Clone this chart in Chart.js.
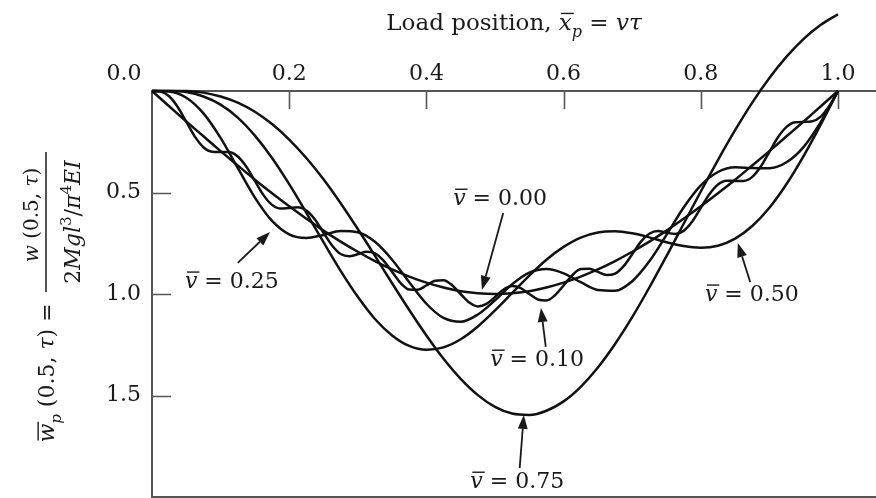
<!DOCTYPE html>
<html>
<head>
<meta charset="utf-8">
<script src="https://cdn.jsdelivr.net/npm/chart.js@4/dist/chart.umd.min.js"></script>
<style>
  html, body { margin: 0; padding: 0; background: #fff; }
</style>
</head>
<body>
<canvas id="deflChart" width="876" height="498"></canvas>
<script>
// load positions (fraction of span) used for the sampled curves
const posFine = [
  0, 0.0125, 0.025, 0.0375, 0.05, 0.0625, 0.075, 0.0875, 0.1, 0.1125,
  0.125, 0.1375, 0.15, 0.1625, 0.175, 0.1875, 0.2, 0.2125, 0.225, 0.2375,
  0.25, 0.2625, 0.275, 0.2875, 0.3, 0.3125, 0.325, 0.3375, 0.35, 0.3625,
  0.375, 0.3875, 0.4, 0.4125, 0.425, 0.4375, 0.45, 0.4625, 0.475, 0.4875,
  0.5, 0.5125, 0.525, 0.5375, 0.55, 0.5625, 0.575, 0.5875, 0.6, 0.6125,
  0.625, 0.6375, 0.65, 0.6625, 0.675, 0.6875, 0.7, 0.7125, 0.725, 0.7375,
  0.75, 0.7625, 0.775, 0.7875, 0.8, 0.8125, 0.825, 0.8375, 0.85, 0.8625,
  0.875, 0.8875, 0.9, 0.9125, 0.925, 0.9375, 0.95, 0.9625, 0.975, 0.9875,
  1.0
];
const posCoarse = [
  0, 0.025, 0.05, 0.075, 0.1, 0.125, 0.15, 0.175, 0.2, 0.225,
  0.25, 0.275, 0.3, 0.325, 0.35, 0.375, 0.4, 0.425, 0.45, 0.475,
  0.5, 0.525, 0.55, 0.575, 0.6, 0.625, 0.65, 0.675, 0.7, 0.725,
  0.75, 0.775, 0.8, 0.825, 0.85, 0.875, 0.9, 0.925, 0.95, 0.975,
  1.0
];

// midspan deflection for each speed ratio
const defl000 = [
  0, 0.075, 0.150, 0.223, 0.296, 0.367, 0.437, 0.504, 0.568, 0.629,
  0.688, 0.742, 0.792, 0.838, 0.879, 0.914, 0.944, 0.968, 0.986, 0.996,
  1.000, 0.996, 0.986, 0.968, 0.944, 0.914, 0.879, 0.838, 0.792, 0.742,
  0.688, 0.629, 0.568, 0.504, 0.437, 0.367, 0.296, 0.223, 0.150, 0.075,
  0
];
const defl010 = [
  0, 0.003, 0.026, 0.079, 0.152, 0.225, 0.277, 0.299, 0.300, 0.301,
  0.323, 0.373, 0.443, 0.513, 0.561, 0.579, 0.576, 0.573, 0.589, 0.633,
  0.698, 0.761, 0.803, 0.814, 0.804, 0.792, 0.800, 0.836, 0.891, 0.946,
  0.978, 0.979, 0.958, 0.935, 0.932, 0.957, 1.000, 1.042, 1.061, 1.049,
  1.015, 0.978, 0.961, 0.971, 1.000, 1.027, 1.032, 1.006, 0.958, 0.908,
  0.877, 0.875, 0.891, 0.907, 0.900, 0.863, 0.804, 0.743, 0.703, 0.690,
  0.698, 0.704, 0.689, 0.643, 0.576, 0.509, 0.461, 0.442, 0.443, 0.443,
  0.423, 0.372, 0.300, 0.228, 0.177, 0.154, 0.152, 0.149, 0.126, 0.073,
  0
];
const defl025 = [
  0, 0.003, 0.033, 0.110, 0.231, 0.379, 0.525, 0.640, 0.706, 0.724,
  0.709, 0.690, 0.696, 0.743, 0.831, 0.942, 1.048, 1.118, 1.137, 1.101,
  1.031, 0.952, 0.895, 0.877, 0.898, 0.942, 0.980, 0.984, 0.937, 0.839,
  0.709, 0.574, 0.465, 0.399, 0.376, 0.379, 0.380, 0.351, 0.275, 0.152,
  0
];
const defl050 = [
  0, 0, 0.005, 0.027, 0.067, 0.131, 0.220, 0.330, 0.459, 0.600,
  0.745, 0.886, 1.014, 1.123, 1.204, 1.256, 1.275, 1.263, 1.223, 1.160,
  1.081, 0.995, 0.909, 0.831, 0.768, 0.722, 0.697, 0.691, 0.701, 0.721,
  0.745, 0.764, 0.772, 0.762, 0.727, 0.665, 0.575, 0.458, 0.319, 0.164,
  0
];
const defl075 = [
  0, 0, 0, 0.008, 0.027, 0.057, 0.102, 0.163, 0.239, 0.330,
  0.435, 0.553, 0.680, 0.812, 0.947, 1.079, 1.204, 1.319, 1.418, 1.498,
  1.556, 1.589, 1.596, 1.575, 1.529, 1.457, 1.362, 1.246, 1.114, 0.968,
  0.813, 0.654, 0.495, 0.340, 0.193, 0.057, -0.064, -0.169, -0.257, -0.326,
  -0.378
];

const xTickValues = [0, 0.2, 0.4, 0.6, 0.8, 1.0];
const yTickValues = [0.5, 1.0, 1.5];

// curve callouts, in data units: label, text anchor, arrow tail, arrow tip
const callouts = [
  { label: "0.00", text: [0.439, 0.562], tail: [0.512, 0.601], tip: [0.481, 0.980] },
  { label: "0.10", text: [0.493, 1.355], tail: [0.574, 1.261], tip: [0.567, 1.069] },
  { label: "0.25", text: [0.048, 0.970], tail: [0.125, 0.847], tip: [0.172, 0.695] },
  { label: "0.50", text: [0.806, 1.034], tail: [0.872, 0.941], tip: [0.854, 0.749] },
  { label: "0.75", text: [0.464, 1.956], tail: [0.536, 1.857], tip: [0.542, 1.596] }
];

const FAMILY = "'DejaVu Serif', serif";
const INK = "#1a1a1a";

function toPoints(xs, ys) {
  return xs.map((x, i) => ({ x: x, y: ys[i] }));
}

function curve(label, xs, ys) {
  return {
    label: label,
    data: toPoints(xs, ys),
    borderColor: "#111",
    borderWidth: 2.5,
    pointRadius: 0,
    fill: false,
    clip: false,
    cubicInterpolationMode: "monotone"
  };
}

// mixed roman / italic text with sub- and superscripts and overbars
function partFont(p, base) {
  const size = p.sub || p.sup ? Math.round(base * 0.68) : base;
  return (p.it ? "italic " : "") + size + "px " + FAMILY;
}
function richWidth(ctx, parts, base) {
  let w = 0;
  parts.forEach(p => {
    ctx.font = partFont(p, base);
    w += ctx.measureText(p.t).width;
  });
  return w;
}
function drawRich(ctx, parts, x, y, base, align) {
  let cx = align === "center" ? x - richWidth(ctx, parts, base) / 2 : x;
  ctx.textBaseline = "alphabetic";
  ctx.textAlign = "left";
  parts.forEach(p => {
    ctx.font = partFont(p, base);
    const dy = p.sub ? base * 0.3 : p.sup ? -base * 0.42 : 0;
    ctx.fillText(p.t, cx, y + dy);
    const tw = ctx.measureText(p.t).width;
    if (p.bar) {
      ctx.beginPath();
      ctx.lineWidth = 1.4;
      ctx.moveTo(cx + 2, y - base * 0.72);
      ctx.lineTo(cx + tw + 2, y - base * 0.72);
      ctx.stroke();
    }
    cx += tw;
  });
}

function arrow(ctx, x1, y1, x2, y2) {
  const ang = Math.atan2(y2 - y1, x2 - x1);
  const len = 14, half = 5;
  const bx = x2 - len * Math.cos(ang), by = y2 - len * Math.sin(ang);
  ctx.beginPath();
  ctx.lineWidth = 1.8;
  ctx.moveTo(x1, y1);
  ctx.lineTo(bx, by);
  ctx.stroke();
  ctx.beginPath();
  ctx.moveTo(x2, y2);
  ctx.lineTo(bx + half * Math.sin(ang), by - half * Math.cos(ang));
  ctx.lineTo(bx - half * Math.sin(ang), by + half * Math.cos(ang));
  ctx.closePath();
  ctx.fill();
}

// open frame with inward tick marks
const framePlugin = {
  id: "frame",
  beforeDatasetsDraw(chart) {
    const { ctx, chartArea: a, scales: { x, y } } = chart;
    ctx.save();
    ctx.strokeStyle = "#555";
    ctx.lineWidth = 2;
    ctx.beginPath();
    ctx.moveTo(a.right, a.top);
    ctx.lineTo(a.left, a.top);
    ctx.lineTo(a.left, a.bottom);
    ctx.lineTo(a.right, a.bottom);
    ctx.stroke();
    ctx.lineWidth = 1.6;
    ctx.beginPath();
    xTickValues.forEach(v => {
      if (v === 0) return;
      const px = Math.round(x.getPixelForValue(v)) + 0.5;
      ctx.moveTo(px, a.top);
      ctx.lineTo(px, a.top + 18);
    });
    yTickValues.forEach(v => {
      const py = Math.round(y.getPixelForValue(v)) + 0.5;
      ctx.moveTo(a.left, py);
      ctx.lineTo(a.left + 19, py);
    });
    ctx.stroke();
    ctx.restore();
  }
};

// axis titles and curve callouts
const textPlugin = {
  id: "labels",
  afterDraw(chart) {
    const { ctx, scales: { x, y } } = chart;
    ctx.save();
    ctx.fillStyle = INK;
    ctx.strokeStyle = INK;

    drawRich(ctx, [
      { t: "Load position, " },
      { t: "x", it: true, bar: true },
      { t: "p", it: true, sub: true },
      { t: " = " },
      { t: "v\u03c4", it: true }
    ], 514, 30, 23, "center");

    // rotated y title: w̄p (0.5, τ) = w (0.5, τ) / (2Mgl³/π⁴EI)
    ctx.save();
    ctx.rotate(-Math.PI / 2);
    drawRich(ctx, [
      { t: "w", it: true, bar: true },
      { t: "p", it: true, sub: true },
      { t: " (0.5, " },
      { t: "\u03c4", it: true },
      { t: ") =" }
    ], -373, 54, 22, "center");
    drawRich(ctx, [
      { t: "w", it: true },
      { t: " (0.5, " },
      { t: "\u03c4", it: true },
      { t: ")" }
    ], -215, 38, 20, "center");
    drawRich(ctx, [
      { t: "2" },
      { t: "Mgl", it: true },
      { t: "3", sup: true },
      { t: "/" },
      { t: "\u03c0", it: true },
      { t: "4", sup: true },
      { t: "EI", it: true }
    ], -222, 80, 22, "center");
    ctx.lineWidth = 1.5;
    ctx.beginPath();
    ctx.moveTo(-292, 46);
    ctx.lineTo(-152, 46);
    ctx.stroke();
    ctx.restore();

    callouts.forEach(c => {
      drawRich(ctx, [
        { t: "v", it: true, bar: true },
        { t: " = " + c.label }
      ], x.getPixelForValue(c.text[0]), y.getPixelForValue(c.text[1]), 22, "left");
      arrow(ctx,
        x.getPixelForValue(c.tail[0]), y.getPixelForValue(c.tail[1]),
        x.getPixelForValue(c.tip[0]), y.getPixelForValue(c.tip[1]));
    });
    ctx.restore();
  }
};

const ctx = document.getElementById("deflChart").getContext("2d");
const deflChart = new Chart(ctx, {
  type: "line",
  data: {
    datasets: [
      curve("0.00", posCoarse, defl000),
      curve("0.10", posFine, defl010),
      curve("0.25", posCoarse, defl025),
      curve("0.50", posCoarse, defl050),
      curve("0.75", posCoarse, defl075)
    ]
  },
  options: {
    responsive: false,
    animation: false,
    devicePixelRatio: 1,
    layout: { padding: { left: 0, right: 0, top: 0, bottom: 1 } },
    plugins: {
      legend: { display: false },
      tooltip: { enabled: false }
    },
    scales: {
      x: {
        type: "linear",
        position: "top",
        min: 0,
        max: 1.0554,
        grid: { display: false, drawTicks: false },
        border: { display: false },
        afterBuildTicks: scale => {
          scale.ticks = xTickValues.map(v => ({ value: v }));
        },
        afterFit: scale => {
          scale.height = 91;
          scale.paddingLeft = 0;
          scale.paddingRight = 0;
        },
        ticks: {
          autoSkip: false,
          maxRotation: 0,
          padding: 4,
          color: INK,
          font: { family: FAMILY, size: 22 },
          // first label sits left of the corner
          callback: v => v === 0 ? "0.0\u2007\u2007\u2007\u2007" : v.toFixed(1)
        }
      },
      y: {
        type: "linear",
        position: "left",
        reverse: true,
        min: 0,
        max: 2,
        grid: { display: false, drawTicks: false },
        border: { display: false },
        afterBuildTicks: scale => {
          scale.ticks = yTickValues.map(v => ({ value: v }));
        },
        afterFit: scale => {
          scale.width = 152;
          scale.paddingTop = 0;
          scale.paddingBottom = 0;
        },
        ticks: {
          autoSkip: false,
          padding: 11,
          color: INK,
          font: { family: FAMILY, size: 22 },
          callback: v => v.toFixed(1)
        }
      }
    }
  },
  plugins: [framePlugin, textPlugin]
});
</script>
</body>
</html>
